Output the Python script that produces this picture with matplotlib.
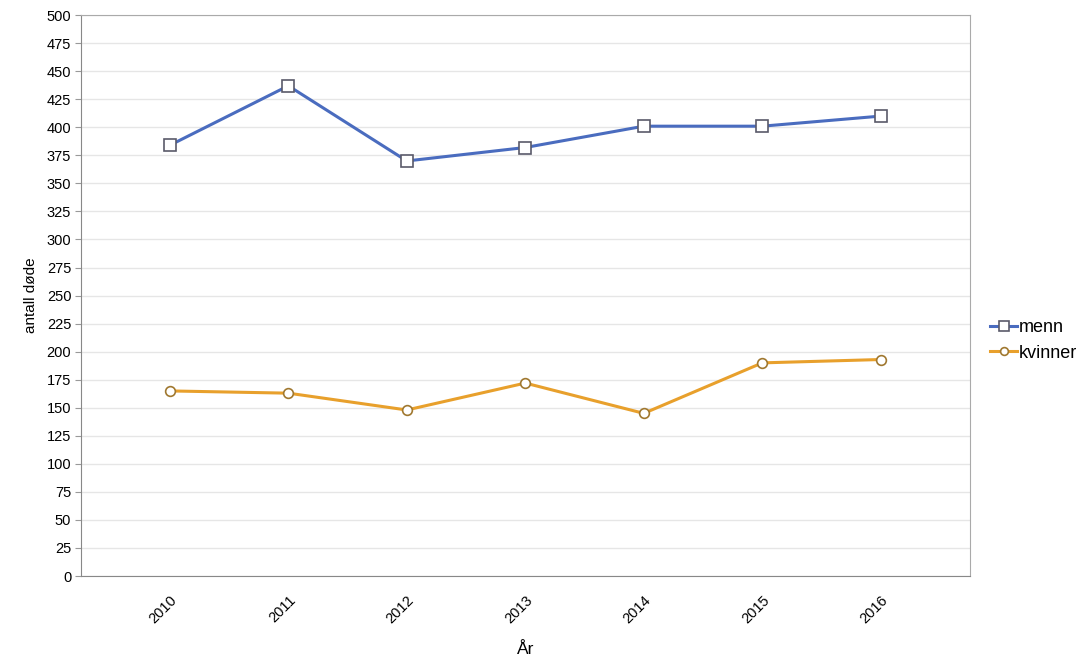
import matplotlib
matplotlib.use("Agg")
import matplotlib.pyplot as plt

plt.rcParams['font.family'] = ['Liberation Sans', 'DejaVu Sans']

years = ["2010", "2011", "2012", "2013", "2014", "2015", "2016"]
menn = [384, 437, 370, 382, 401, 401, 410]
kvinner = [165, 163, 148, 172, 145, 190, 193]

fig = plt.figure(figsize=(10.87, 6.58), dpi=100)
ax = fig.add_axes([0.0745, 0.1246, 0.8175, 0.8524])

x = list(range(len(years)))
ax.plot(x, menn, color="#4a6cbf", lw=2.2, marker="s", ms=8.5,
        mfc="white", mec="#5a5a6a", mew=1.2, label="menn", zorder=3)
ax.plot(x, kvinner, color="#e8a02c", lw=2.2, marker="o", ms=7,
        mfc="white", mec="#a07830", mew=1.2, label="kvinner", zorder=3)

ax.set_xlim(-0.75, 6.75)
ax.set_ylim(0, 500)
ax.set_yticks(range(0, 501, 25))
ax.set_xticks(x)
ax.set_xticklabels(years, rotation=45, ha="right", rotation_mode="anchor")
ax.tick_params(axis="x", length=0, pad=12, labelsize=10.5)
ax.tick_params(axis="y", length=4, color="#999999", labelsize=10.5, pad=3)
ax.grid(axis="y", color="#e6e6e6", lw=1)
ax.set_axisbelow(True)
for s in ax.spines.values():
    s.set_color("#aaaaaa")
ax.spines["left"].set_color("#888888")
ax.spines["bottom"].set_color("#888888")

ax.set_xlabel("År", fontsize=12.5, labelpad=12)
ax.set_ylabel("antall døde", fontsize=11, labelpad=6)

leg = ax.legend(loc="center left", bbox_to_anchor=(1.005, 0.42), frameon=False,
                fontsize=13, handlelength=1.5, handletextpad=0.1,
                labelspacing=0.45, markerscale=0.8)

fig.savefig("out.png", dpi=100)
